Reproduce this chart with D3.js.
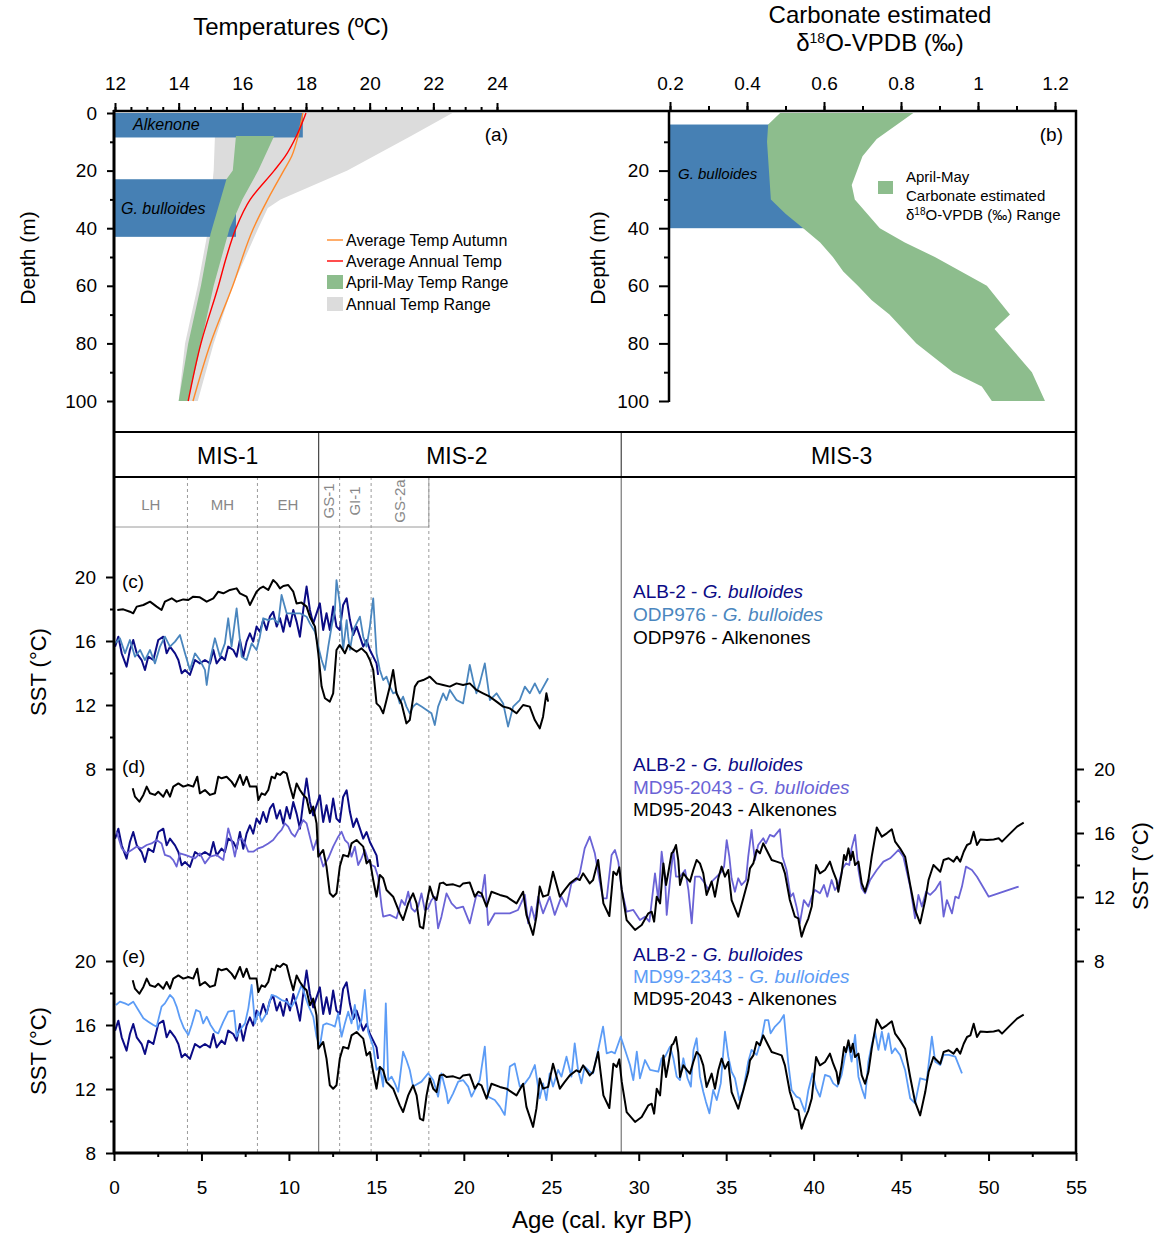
<!doctype html>
<html>
<head>
<meta charset="utf-8">
<style>
    body { margin: 0; background: #fff; }
    text { font-family: "Liberation Sans", Arial, Helvetica, sans-serif; fill: #000; }
</style>
</head>
<body>
<div class="chart"></div>
<script src="https://d3js.org/d3.v7.min.js"></script>
<script>

    // ---------- panel (a): temperature profiles vs depth ----------
    let tempTicks = [12, 14, 16, 18, 20, 22, 24];
    let depthTicks = [0, 20, 40, 60, 80, 100];
    let annualRangeLeft = [[0, 15.2], [8, 15.14], [20, 15.1], [42, 14.9], [60, 14.6], [80, 14.2], [100, 14.0]];
    let annualRangeRight = [[0, 22.6], [8, 21.3], [20, 19.3], [30, 17.2], [33, 16.8], [40, 16.5], [60, 15.7], [80, 15.1], [100, 14.6]];
    let aprilMayLeft = [[8, 15.8], [20, 15.7], [23, 15.5], [42, 15.0], [60, 14.7], [80, 14.3], [100, 14.0]];
    let aprilMayRight = [[8, 17.0], [20, 16.5], [30, 16.0], [40, 15.6], [60, 15.1], [80, 14.7], [100, 14.3]];
    let annualAverage = [[0, 18.0], [8, 17.7], [15, 17.35], [20, 17.0], [30, 16.25], [40, 15.8], [50, 15.5], [60, 15.25], [80, 14.7], [100, 14.3]];
    let autumnAverage = [[0, 17.9], [8, 17.75], [15, 17.55], [20, 17.3], [30, 16.8], [40, 16.35], [60, 15.7], [80, 15.0], [100, 14.45]];
    let alkenoneDepth = [0, 8.5];
    let bulloidesDepthA = [23, 43];

    // ---------- panel (b): d18O range vs depth ----------
    let d18Ticks = [0.2, 0.4, 0.6, 0.8, 1, 1.2];
    let depthTicksB = [20, 40, 60, 80, 100];
    let d18Left = [[0, 0.486], [4, 0.455], [10, 0.452], [30, 0.462], [35, 0.50], [40, 0.546], [45, 0.59], [50, 0.623], [55, 0.65], [60, 0.688], [65, 0.724], [70, 0.77], [80, 0.84], [90, 0.935], [95, 1.01], [100, 1.036]];
    let d18Right = [[0, 0.832], [3, 0.80], [9, 0.737], [15, 0.70], [25, 0.672], [30, 0.68], [40, 0.745], [45, 0.81], [50, 0.888], [60, 1.023], [70, 1.083], [75, 1.043], [90, 1.14], [100, 1.174]];
    let bulloidesDepthB = [4, 40];

    // ---------- time axis, periods ----------
    let ageTicks = [0, 5, 10, 15, 20, 25, 30, 35, 40, 45, 50, 55];
    let sstTicks = [8, 12, 16, 20];
    let misBounds = [11.7, 29.0];
    let misLabels = [['MIS-1', 6.5], ['MIS-2', 19.6], ['MIS-3', 41.6]];
    let stageBounds = [4.2, 8.2, 12.9, 14.7, 18.0];
    let stageLabels = [['LH', 2.1, false], ['MH', 6.2, false], ['EH', 9.95, false], ['GS-1', 12.3, true], ['GI-1', 13.8, true], ['GS-2a', 16.35, true]];

    // ---------- SST records [age kyr, SST °C] ----------
    let alb2Bulloides = [[0.06,15.65],[0.25,16.27],[0.44,15.23],[0.72,14.40],[0.91,15.44],[1.10,16.06],[1.30,15.23],[1.58,14.81],[1.77,14.19],[1.96,15.02],[2.25,14.81],[2.53,16.06],[2.82,16.27],[3.01,15.23],[3.20,15.65],[3.49,15.23],[3.68,14.81],[3.87,13.98],[4.06,14.19],[4.34,13.88],[4.63,14.81],[4.91,14.60],[5.20,14.81],[5.49,14.60],[5.68,15.44],[5.87,14.60],[6.15,15.02],[6.34,14.81],[6.53,15.65],[6.82,15.44],[7.01,15.02],[7.20,16.06],[7.39,15.02],[7.58,15.96],[7.77,16.48],[7.96,15.96],[8.15,16.90],[8.34,16.58],[8.53,17.31],[8.72,16.69],[8.91,17.52],[9.10,17.83],[9.30,16.90],[9.49,17.42],[9.68,16.58],[9.87,17.63],[10.06,16.90],[10.25,17.94],[10.44,17.21],[10.63,16.27],[10.82,17.94],[11.01,19.40],[11.20,17.94],[11.39,17.10],[11.58,17.73],[11.77,18.35],[11.96,16.69],[12.15,17.73],[12.34,16.69],[12.53,18.15],[12.72,16.90],[12.91,16.69],[13.10,18.25],[13.30,18.67],[13.49,17.31],[13.68,16.38],[13.87,16.90],[14.06,16.27],[14.25,15.65],[14.44,16.06],[14.63,15.44],[14.82,15.02],[15.01,14.60],[15.10,13.88]];

    let odp976Bulloides = [[0.06,15.85],[0.34,16.17],[0.63,15.23],[0.91,16.06],[1.20,15.02],[1.49,15.44],[1.77,14.81],[2.06,15.44],[2.34,14.60],[2.63,15.65],[2.91,16.27],[3.20,15.65],[3.49,15.96],[3.77,16.38],[4.06,15.23],[4.34,14.19],[4.63,15.23],[4.91,14.81],[5.20,14.19],[5.30,13.25],[5.49,14.81],[5.77,16.17],[6.06,15.02],[6.34,15.85],[6.53,17.42],[6.72,15.65],[7.01,18.04],[7.30,15.02],[7.58,14.81],[7.87,15.85],[8.15,15.44],[8.34,16.27],[8.53,17.42],[8.82,17.31],[9.10,17.42],[9.39,17.10],[9.58,18.88],[9.87,17.73],[10.63,17.73],[11.01,17.52],[11.20,17.10],[11.49,16.58],[11.68,15.65],[11.87,14.81],[12.06,14.19],[12.25,15.65],[12.44,16.90],[12.63,17.94],[12.72,19.81],[12.91,18.35],[13.10,15.44],[13.30,17.31],[13.39,16.27],[13.49,15.44],[13.68,16.69],[13.87,17.10],[14.06,17.52],[14.25,16.27],[14.44,15.65],[14.63,16.90],[14.82,18.67],[15.01,15.23],[15.20,14.19],[15.39,13.56],[15.58,13.77],[15.77,13.15],[15.96,12.73],[16.15,12.83],[16.34,12.10],[16.53,12.52],[16.72,11.90],[16.91,11.48],[17.10,11.90],[17.30,12.10],[17.58,11.90],[17.87,11.69],[18.15,11.48],[18.34,10.75],[18.53,11.90],[18.82,12.73],[19.01,12.31],[19.20,12.94],[19.58,12.31],[19.96,12.10],[20.34,14.50],[20.53,13.56],[20.72,12.73],[20.91,13.35],[21.20,14.60],[21.49,12.31],[21.87,12.73],[22.25,12.10],[22.53,10.65],[22.82,11.90],[23.20,12.31],[23.49,13.15],[23.77,12.73],[24.06,13.35],[24.34,12.73],[24.82,13.67]];

    let odp976Alkenones = [[0.19,17.94],[0.53,17.98],[0.91,17.83],[1.10,17.73],[1.30,18.15],[1.68,18.25],[2.06,18.46],[2.44,18.15],[2.72,17.94],[2.91,18.46],[3.30,18.67],[3.58,18.46],[3.96,18.60],[4.25,18.56],[4.53,18.77],[4.91,18.73],[5.30,18.46],[5.68,18.67],[5.96,19.08],[6.25,18.98],[6.63,19.19],[7.01,19.29],[7.20,18.98],[7.58,18.77],[7.77,18.25],[8.15,19.08],[8.34,19.29],[8.53,19.40],[8.82,19.19],[9.10,19.81],[9.30,19.60],[9.49,19.29],[9.68,19.44],[9.96,19.50],[10.25,19.08],[10.44,18.35],[10.72,18.40],[11.01,18.15],[11.20,17.52],[11.49,16.90],[11.68,15.23],[11.87,13.15],[12.06,12.42],[12.34,12.21],[12.53,12.73],[12.72,15.44],[12.91,15.75],[13.20,15.23],[13.39,15.75],[13.58,15.54],[13.87,15.33],[14.15,15.54],[14.44,15.23],[14.63,14.81],[14.82,14.19],[15.01,12.10],[15.20,11.90],[15.39,11.48],[15.58,12.31],[15.77,13.15],[15.96,14.19],[16.15,12.73],[16.44,12.10],[16.72,10.85],[16.91,11.06],[17.20,13.15],[17.39,13.46],[17.68,13.56],[18.06,13.77],[18.44,13.35],[18.82,13.25],[19.20,13.15],[19.58,13.35],[19.96,13.25],[20.34,13.35],[20.72,12.94],[21.10,12.73],[21.49,12.52],[21.87,12.21],[22.25,11.90],[22.63,11.79],[23.01,11.48],[23.39,12.00],[23.77,11.90],[24.06,11.06],[24.34,10.54],[24.53,11.27],[24.72,12.73],[24.82,12.21]];

    let md952043Bulloides = [[0.15,16.08],[0.44,15.04],[0.72,14.73],[1.01,14.94],[1.30,15.15],[1.58,15.04],[1.87,15.25],[2.15,15.35],[2.44,15.56],[2.72,15.35],[2.91,14.63],[3.20,14.52],[3.39,14.31],[3.58,13.90],[3.77,14.73],[4.06,14.63],[4.34,14.52],[4.63,14.42],[4.91,14.73],[5.20,14.10],[5.49,14.52],[5.87,14.63],[6.25,14.31],[6.53,16.29],[6.72,15.56],[6.91,14.52],[7.10,15.56],[7.30,15.67],[7.49,15.35],[7.68,14.83],[7.96,14.83],[8.25,15.04],[8.53,15.15],[8.82,15.35],[9.10,15.56],[9.39,15.98],[9.58,16.19],[9.77,16.60],[9.96,16.40],[10.15,15.98],[10.34,15.77],[10.63,16.40],[10.82,16.81],[11.01,16.60],[11.20,15.77],[11.39,14.94],[11.58,15.56],[11.77,14.63],[11.96,13.90],[12.25,14.42],[12.53,15.15],[12.82,15.77],[13.01,16.08],[13.20,15.56],[13.39,15.35],[13.58,14.52],[13.77,15.15],[13.96,14.00],[14.15,14.42],[14.34,14.94],[14.53,14.31],[14.72,14.00],[14.91,13.90],[15.10,13.27],[15.30,11.40],[15.39,10.77],[15.77,10.88],[16.15,10.67],[16.44,11.81],[16.63,11.50],[16.82,12.33],[17.01,11.29],[17.20,11.08],[17.39,11.40],[17.58,12.23],[17.77,11.19],[17.96,11.29],[18.15,11.81],[18.34,12.02],[18.53,10.04],[18.72,10.77],[19.01,12.23],[19.30,11.60],[19.58,11.29],[19.96,11.40],[20.34,10.35],[20.72,12.13],[21.01,12.02],[21.20,13.38],[21.39,10.25],[21.77,10.98],[22.15,10.98],[22.63,10.98],[23.10,11.19],[23.49,12.13],[23.68,10.35],[23.87,11.40],[24.06,10.56],[24.25,12.02],[24.53,10.98],[24.91,12.02],[25.20,10.88],[25.58,12.02],[25.87,11.40],[26.15,12.85],[26.44,13.06],[26.63,13.48],[26.91,15.04],[27.20,15.77],[27.49,14.73],[27.77,12.96],[27.96,11.92],[28.17,11.92],[28.45,14.63],[28.64,14.94],[28.83,14.21],[29.03,12.44],[29.31,11.08],[29.69,11.19],[30.07,10.56],[30.36,10.77],[30.61,10.46],[30.93,13.48],[31.12,11.81],[31.31,14.83],[31.51,13.06],[31.60,10.88],[31.79,13.06],[31.98,14.94],[32.13,13.27],[32.36,13.27],[32.65,13.69],[32.84,12.44],[33.03,10.35],[33.22,13.27],[33.50,13.27],[33.79,12.85],[33.98,12.44],[34.17,12.96],[34.46,13.27],[34.74,13.58],[34.88,13.90],[35.03,15.56],[35.18,14.52],[35.31,13.17],[35.50,12.33],[35.69,13.17],[35.88,12.75],[36.13,13.06],[36.26,14.52],[36.45,16.19],[36.64,14.31],[36.83,15.25],[37.12,15.67],[37.27,15.35],[37.50,15.88],[37.73,15.77],[38.07,16.23],[38.22,14.52],[38.45,13.69],[38.68,12.02],[38.83,12.23],[39.02,11.40],[39.21,10.35],[39.44,11.81],[39.70,11.40],[39.89,12.02],[40.08,12.44],[40.36,12.23],[40.59,12.75],[40.78,12.02],[41.03,13.06],[41.22,12.44],[41.41,12.75],[41.66,13.79],[41.85,14.10],[42.04,14.00],[42.17,15.04],[42.37,15.88],[42.56,13.69],[42.75,12.54],[42.94,12.23],[43.23,13.06],[43.61,13.69],[43.99,14.21],[44.37,14.42],[44.66,14.73],[44.85,14.94],[45.13,14.52],[45.52,12.65],[45.80,10.67],[45.99,12.13],[46.19,11.40],[46.43,12.33],[46.66,12.13],[46.95,12.44],[47.24,12.96],[47.43,10.77],[47.62,11.81],[47.91,10.98],[48.10,12.02],[48.29,11.92],[48.48,12.65],[48.71,13.90],[49.05,13.69],[49.34,13.27],[50.01,12.02],[51.72,12.65]];

    let md952043Alkenones = [[1.07,18.79],[1.20,18.27],[1.45,17.96],[1.68,18.38],[1.87,18.90],[2.06,18.48],[2.34,18.38],[2.53,18.58],[2.82,18.27],[3.01,18.69],[3.20,18.27],[3.39,18.90],[3.68,19.10],[3.96,18.90],[4.25,19.00],[4.53,18.90],[4.76,19.52],[4.91,18.48],[5.20,18.69],[5.49,18.38],[5.77,18.48],[5.96,19.52],[6.15,19.42],[6.44,19.52],[6.72,19.21],[6.91,18.90],[7.20,19.63],[7.39,19.00],[7.58,19.52],[7.77,18.90],[8.15,18.90],[8.25,18.06],[8.44,18.48],[8.63,18.38],[8.82,18.69],[9.01,19.52],[9.20,19.42],[9.30,19.73],[9.49,19.63],[9.68,19.83],[9.87,19.73],[10.06,18.90],[10.25,18.17],[10.44,19.10],[10.63,18.69],[10.82,18.38],[11.01,18.17],[11.20,17.23],[11.39,17.65],[11.58,16.60],[11.68,14.52],[11.96,14.94],[12.15,13.90],[12.34,12.23],[12.53,12.02],[12.72,12.23],[12.91,13.90],[13.10,14.63],[13.39,14.52],[13.58,15.35],[13.87,15.56],[14.06,15.35],[14.25,15.15],[14.44,14.10],[14.63,14.31],[14.82,13.06],[15.01,12.02],[15.20,13.38],[15.39,13.17],[15.58,12.44],[15.96,12.02],[16.34,10.98],[16.53,10.56],[16.82,11.60],[16.91,11.81],[17.10,12.23],[17.30,11.60],[17.49,10.15],[17.68,10.04],[17.87,11.60],[18.06,12.65],[18.25,12.02],[18.44,11.81],[18.63,12.85],[18.82,12.90],[19.01,12.75],[19.39,12.79],[19.77,12.65],[19.96,12.85],[20.34,12.90],[20.63,12.02],[20.82,12.33],[21.01,12.23],[21.30,11.40],[21.58,12.33],[22.06,12.13],[22.44,12.02],[23.01,11.60],[23.39,12.33],[23.58,10.88],[23.96,9.63],[24.15,10.77],[24.34,12.65],[24.53,12.02],[24.82,12.13],[25.10,13.58],[25.49,12.02],[25.77,12.44],[26.06,12.85],[26.44,13.17],[26.63,13.06],[26.82,13.48],[27.20,12.85],[27.39,13.06],[27.68,14.31],[27.98,11.60],[28.32,10.81],[28.55,13.58],[28.74,13.38],[28.89,13.85],[29.03,12.44],[29.31,10.56],[29.79,9.94],[30.17,10.25],[30.55,10.98],[30.74,11.08],[30.88,10.46],[31.03,12.02],[31.22,11.60],[31.41,14.10],[31.56,12.75],[31.70,13.58],[31.88,14.73],[31.98,14.83],[32.13,15.25],[32.26,14.31],[32.36,12.75],[32.55,13.48],[32.77,13.17],[32.93,12.96],[33.12,13.69],[33.31,14.31],[33.50,14.10],[33.69,13.48],[33.88,12.13],[34.17,12.96],[34.36,12.02],[34.55,13.17],[34.74,13.90],[34.93,13.27],[35.12,13.69],[35.31,11.81],[35.69,10.77],[35.98,11.92],[36.26,13.06],[36.36,13.79],[36.55,14.10],[36.74,14.94],[36.93,14.73],[37.12,15.35],[37.31,14.94],[37.60,14.31],[37.88,14.21],[38.17,14.10],[38.36,13.48],[38.64,11.81],[38.93,10.77],[39.12,10.67],[39.31,9.52],[39.50,10.15],[39.70,10.67],[39.89,11.40],[40.14,14.00],[40.36,13.48],[40.65,13.69],[40.93,14.21],[41.12,13.58],[41.31,13.06],[41.41,12.33],[41.60,13.48],[41.74,14.63],[41.85,14.31],[41.99,15.04],[42.12,14.31],[42.24,14.83],[42.37,14.00],[42.56,14.21],[42.75,12.85],[42.94,12.33],[43.13,13.06],[43.32,14.52],[43.61,16.35],[43.90,15.77],[44.18,15.98],[44.47,16.23],[44.66,15.46],[44.94,15.04],[45.23,14.52],[45.52,12.75],[45.80,11.19],[46.09,10.35],[46.38,11.81],[46.57,13.06],[46.85,14.00],[47.24,13.58],[47.43,14.31],[47.72,14.42],[48.00,14.21],[48.19,14.52],[48.38,14.21],[48.58,14.83],[48.77,15.25],[48.96,15.35],[49.15,16.08],[49.34,15.25],[49.53,15.60],[49.91,15.56],[50.29,15.60],[50.58,15.67],[50.77,15.46],[51.15,15.88],[51.63,16.40],[52.01,16.65]];

    let md992343Bulloides = [[0.11,17.25],[0.34,17.46],[0.63,17.35],[0.82,17.25],[1.10,17.46],[1.39,16.94],[1.68,16.42],[1.96,16.21],[2.25,16.00],[2.44,15.90],[2.72,17.15],[2.91,17.35],[3.20,17.88],[3.39,17.67],[3.58,17.15],[3.77,16.42],[4.00,15.79],[4.25,15.38],[4.44,16.00],[4.69,16.94],[4.91,16.83],[5.10,16.10],[5.30,16.52],[5.52,16.00],[5.77,15.58],[5.96,15.48],[6.25,16.21],[6.53,16.83],[6.86,16.90],[7.01,15.27],[7.20,15.69],[7.49,16.10],[7.68,17.04],[7.87,18.50],[8.06,16.10],[8.25,16.83],[8.44,16.21],[8.72,16.73],[9.01,17.88],[9.30,17.77],[9.58,17.56],[9.87,17.46],[10.15,17.15],[10.44,17.67],[10.72,18.50],[10.91,17.88],[11.10,17.25],[11.39,16.52],[11.58,15.27],[11.77,14.65],[11.96,16.00],[12.15,16.10],[12.44,16.00],[12.63,15.90],[12.82,16.73],[13.01,15.27],[13.20,16.10],[13.39,16.83],[13.58,16.10],[13.77,17.25],[13.96,15.69],[14.15,16.31],[14.34,18.19],[14.53,15.58],[14.82,14.65],[15.01,13.19],[15.20,13.40],[15.39,12.15],[15.54,17.35],[15.68,12.56],[15.87,12.77],[16.06,12.35],[16.25,11.83],[16.53,14.33],[16.72,13.81],[16.91,13.19],[17.10,12.15],[17.58,12.46],[17.96,12.98],[18.25,12.56],[18.53,11.52],[18.72,12.98],[19.01,11.73],[19.10,11.10],[19.39,11.73],[19.68,12.46],[19.96,12.56],[20.25,12.15],[20.44,11.52],[20.63,11.94],[20.91,12.56],[21.20,14.65],[21.39,11.52],[21.77,11.31],[22.06,10.90],[22.34,10.38],[22.63,13.40],[22.91,13.60],[23.20,12.15],[23.49,12.35],[23.77,12.77],[24.06,13.50],[24.34,11.42],[24.53,12.35],[24.72,11.31],[24.91,12.98],[25.10,12.15],[25.39,13.19],[25.58,12.77],[25.87,14.02],[26.15,12.77],[26.34,14.85],[26.53,13.19],[26.72,12.35],[26.91,13.40],[27.20,13.08],[27.39,12.98],[27.68,14.44],[27.96,15.90],[28.17,14.23],[28.45,14.33],[28.64,14.23],[28.97,15.27],[29.22,14.44],[29.50,13.50],[29.69,12.56],[29.89,14.33],[30.07,12.67],[30.36,13.81],[30.65,13.19],[31.12,13.08],[31.31,13.92],[31.51,14.02],[31.79,14.65],[31.98,13.92],[32.17,12.77],[32.36,12.56],[32.55,13.92],[32.79,12.67],[32.98,12.15],[33.13,14.44],[33.31,15.17],[33.50,12.77],[33.69,11.83],[33.84,11.21],[34.04,10.48],[34.26,11.94],[34.46,11.31],[34.69,12.35],[34.93,15.58],[35.12,14.02],[35.31,13.08],[35.50,12.67],[35.75,11.31],[35.98,11.94],[36.26,13.71],[36.45,14.44],[36.74,14.13],[37.03,15.17],[37.22,16.31],[37.41,16.31],[37.54,15.48],[37.79,15.90],[38.07,16.21],[38.30,16.63],[38.55,13.60],[38.74,11.94],[39.02,11.52],[39.21,11.42],[39.50,10.58],[39.70,11.94],[39.94,12.98],[40.14,12.04],[40.36,11.52],[40.65,12.88],[40.93,12.77],[41.12,12.35],[41.35,12.15],[41.60,12.88],[41.79,14.02],[41.98,14.85],[42.17,13.71],[42.37,15.38],[42.56,12.77],[42.75,12.04],[42.94,11.42],[43.13,13.71],[43.32,14.75],[43.51,15.58],[43.70,14.44],[43.90,15.58],[44.09,14.44],[44.28,15.48],[44.47,14.23],[44.66,14.54],[44.94,14.13],[45.23,13.19],[45.52,11.42],[45.80,11.10],[46.09,12.67],[46.47,12.56],[46.76,15.27],[46.95,13.71],[47.24,13.50],[47.43,14.13],[47.72,14.13],[48.10,14.02],[48.48,12.98]];

    // ---------- colours ----------
    let navy = '#0b0b85';
    let odpBlue = '#4a86be';
    let mdSlate = '#6a63d6';
    let md99Blue = '#5c9cf6';
    let boxBlue = '#4680b4';
    let green = '#8dbd8d';
    let grey = '#dcdcdc';

    // ---------- svg + scales ----------
    let svg = d3.select('.chart').append('svg')
        .attr('width', 1161)
        .attr('height', 1238);

    let xTemp = d3.scaleLinear().domain([12, 24]).range([115, 497]);
    let xD18 = d3.scaleLinear().domain([0.2, 1.2]).range([670, 1055]);
    let yDepth = d3.scaleLinear().domain([0, 100]).range([113, 401]);
    let xAge = d3.scaleLinear().domain([0, 55]).range([114, 1076]);
    let ySstC = d3.scaleLinear().domain([8, 20]).range([769, 577]);
    let ySstD = d3.scaleLinear().domain([8, 20]).range([961, 769]);
    let ySstE = d3.scaleLinear().domain([8, 20]).range([1153, 961]);

    // polygon made from a left edge (top->bottom) and right edge (bottom->top)
    function bandPath(left, right, xs) {
        let pts = left.map(d => [xs(d[1]), yDepth(d[0])])
            .concat(right.slice().reverse().map(d => [xs(d[1]), yDepth(d[0])]));
        return d3.line().curve(d3.curveLinear)(pts) + 'Z';
    }

    // ---------- panel (a) ----------
    svg.append('path').attr('d', bandPath(annualRangeLeft, annualRangeRight, xTemp)).attr('fill', grey);

    svg.append('rect')
        .attr('x', xTemp(12)).attr('y', yDepth(alkenoneDepth[0]))
        .attr('width', xTemp(17.9) - xTemp(12))
        .attr('height', yDepth(alkenoneDepth[1]) - yDepth(alkenoneDepth[0]))
        .attr('fill', boxBlue);
    svg.append('rect')
        .attr('x', xTemp(12)).attr('y', yDepth(bulloidesDepthA[0]))
        .attr('width', xTemp(15.8) - xTemp(12))
        .attr('height', yDepth(bulloidesDepthA[1]) - yDepth(bulloidesDepthA[0]))
        .attr('fill', boxBlue);

    svg.append('path').attr('d', bandPath(aprilMayLeft, aprilMayRight, xTemp)).attr('fill', green);

    let profileLine = d3.line().curve(d3.curveMonotoneY)
        .x(d => xTemp(d[1])).y(d => yDepth(d[0]));
    svg.append('path').datum(autumnAverage).attr('d', profileLine)
        .attr('fill', 'none').attr('stroke', '#ff8a2a').attr('stroke-width', 1.4);
    svg.append('path').datum(annualAverage).attr('d', profileLine)
        .attr('fill', 'none').attr('stroke', '#ff0000').attr('stroke-width', 1.4);

    svg.append('text').attr('x', 133).attr('y', 130).attr('font-size', 16)
        .attr('font-style', 'italic').text('Alkenone');
    svg.append('text').attr('x', 121).attr('y', 214).attr('font-size', 16)
        .attr('font-style', 'italic').text('G. bulloides');
    svg.append('text').attr('x', 508).attr('y', 141).attr('font-size', 19)
        .attr('text-anchor', 'end').text('(a)');

    // legend (a)
    let legA = svg.append('g').attr('font-size', 16);
    legA.append('line').attr('x1', 327).attr('x2', 343).attr('y1', 240).attr('y2', 240)
        .attr('stroke', '#ff8a2a').attr('stroke-width', 1.4);
    legA.append('line').attr('x1', 327).attr('x2', 343).attr('y1', 261).attr('y2', 261)
        .attr('stroke', '#ff0000').attr('stroke-width', 1.4);
    legA.append('rect').attr('x', 327).attr('y', 275).attr('width', 16).attr('height', 14).attr('fill', green);
    legA.append('rect').attr('x', 327).attr('y', 297).attr('width', 16).attr('height', 14).attr('fill', grey);
    legA.append('text').attr('x', 346).attr('y', 246).text('Average Temp Autumn');
    legA.append('text').attr('x', 346).attr('y', 267).text('Average Annual Temp');
    legA.append('text').attr('x', 346).attr('y', 288).text('April-May Temp Range');
    legA.append('text').attr('x', 346).attr('y', 310).text('Annual Temp Range');

    // ---------- panel (b) ----------
    svg.append('rect')
        .attr('x', xD18(0.2)).attr('y', yDepth(bulloidesDepthB[0]))
        .attr('width', xD18(0.55) - xD18(0.2))
        .attr('height', yDepth(bulloidesDepthB[1]) - yDepth(bulloidesDepthB[0]))
        .attr('fill', boxBlue);
    svg.append('path').attr('d', bandPath(d18Left, d18Right, xD18)).attr('fill', green);

    svg.append('text').attr('x', 678).attr('y', 179).attr('font-size', 15)
        .attr('font-style', 'italic').text('G. bulloides');
    svg.append('text').attr('x', 1063).attr('y', 141).attr('font-size', 19)
        .attr('text-anchor', 'end').text('(b)');

    let legB = svg.append('g').attr('font-size', 15);
    legB.append('rect').attr('x', 878).attr('y', 181).attr('width', 15).attr('height', 13).attr('fill', green);
    legB.append('text').attr('x', 906).attr('y', 182).text('April-May');
    legB.append('text').attr('x', 906).attr('y', 201).text('Carbonate estimated');
    let legB3 = legB.append('text').attr('x', 906).attr('y', 220);
    legB3.append('tspan').text('δ');
    legB3.append('tspan').attr('font-size', 10).attr('dy', -5).text('18');
    legB3.append('tspan').attr('dy', 5).text('O-VPDB (‰) Range');

    // ---------- titles ----------
    svg.append('text').attr('x', 291).attr('y', 35).attr('font-size', 24)
        .attr('text-anchor', 'middle').text('Temperatures (ºC)');
    svg.append('text').attr('x', 880).attr('y', 23).attr('font-size', 24)
        .attr('text-anchor', 'middle').text('Carbonate estimated');
    let t2 = svg.append('text').attr('x', 880).attr('y', 51).attr('font-size', 24)
        .attr('text-anchor', 'middle');
    t2.append('tspan').text('δ');
    t2.append('tspan').attr('font-size', 14).attr('dy', -8).text('18');
    t2.append('tspan').attr('dy', 8).text('O-VPDB (‰)');

    svg.append('text').attr('transform', 'translate(35,258) rotate(-90)')
        .attr('font-size', 21).attr('text-anchor', 'middle').text('Depth (m)');
    svg.append('text').attr('transform', 'translate(605,258) rotate(-90)')
        .attr('font-size', 21).attr('text-anchor', 'middle').text('Depth (m)');

    // ---------- axes helpers ----------
    function styleAxis(g, size) {
        g.select('.domain').remove();
        g.selectAll('.tick line').attr('stroke', '#000').attr('stroke-width', 2);
        g.selectAll('.tick text').attr('font-size', size).attr('fill', '#000')
            .attr('font-family', '"Liberation Sans", Arial, Helvetica, sans-serif');
    }

    // top temperature axis
    svg.append('g').attr('transform', 'translate(0,111)')
        .call(d3.axisTop(xTemp).tickValues(d3.range(12, 24.01, 0.5)).tickSize(4).tickFormat(''))
        .call(g => styleAxis(g, 19));
    svg.append('g').attr('transform', 'translate(0,111)')
        .call(d3.axisTop(xTemp).tickValues(tempTicks).tickSize(8).tickPadding(13))
        .call(g => styleAxis(g, 19));

    // top d18O axis
    svg.append('g').attr('transform', 'translate(0,111)')
        .call(d3.axisTop(xD18).tickValues(d3.range(0.2, 1.21, 0.1)).tickSize(5).tickFormat(''))
        .call(g => styleAxis(g, 19));
    svg.append('g').attr('transform', 'translate(0,111)')
        .call(d3.axisTop(xD18).tickValues(d18Ticks).tickSize(9).tickPadding(12).tickFormat(d => d3.format('')(+d.toFixed(1))))
        .call(g => styleAxis(g, 19));

    // depth axes
    svg.append('g').attr('transform', 'translate(114,0)')
        .call(d3.axisLeft(yDepth).tickValues([10, 30, 50, 70, 90]).tickSize(4).tickFormat(''))
        .call(g => styleAxis(g, 19));
    svg.append('g').attr('transform', 'translate(114,0)')
        .call(d3.axisLeft(yDepth).tickValues(depthTicks).tickSize(7).tickPadding(10))
        .call(g => styleAxis(g, 19));
    svg.append('g').attr('transform', 'translate(669,0)')
        .call(d3.axisLeft(yDepth).tickValues([10, 30, 50, 70, 90]).tickSize(5).tickFormat(''))
        .call(g => styleAxis(g, 19));
    svg.append('g').attr('transform', 'translate(669,0)')
        .call(d3.axisLeft(yDepth).tickValues(depthTicksB).tickSize(10).tickPadding(10))
        .call(g => styleAxis(g, 19));

    // ---------- period bands ----------
    let grid = svg.append('g');
    stageBounds.forEach(a => {
        grid.append('line').attr('x1', xAge(a)).attr('x2', xAge(a)).attr('y1', 477).attr('y2', 1153)
            .attr('stroke', '#9a9a9a').attr('stroke-width', 1).attr('stroke-dasharray', '3,3');
    });
    misBounds.forEach(a => {
        grid.append('line').attr('x1', xAge(a)).attr('x2', xAge(a)).attr('y1', 432).attr('y2', 477)
            .attr('stroke', '#444').attr('stroke-width', 1.2);
        grid.append('line').attr('x1', xAge(a)).attr('x2', xAge(a)).attr('y1', 477).attr('y2', 1153)
            .attr('stroke', '#777').attr('stroke-width', 1.2);
    });
    grid.append('line').attr('x1', xAge(0)).attr('x2', xAge(18.0)).attr('y1', 527).attr('y2', 527)
        .attr('stroke', '#9a9a9a').attr('stroke-width', 1);
    grid.append('line').attr('x1', xAge(18.0)).attr('x2', xAge(18.0)).attr('y1', 477).attr('y2', 527)
        .attr('stroke', '#9a9a9a').attr('stroke-width', 1);

    misLabels.forEach(d => {
        svg.append('text').attr('x', xAge(d[1])).attr('y', 464).attr('font-size', 23)
            .attr('text-anchor', 'middle').text(d[0]);
    });
    stageLabels.forEach(d => {
        let t = svg.append('text').attr('font-size', 15).attr('fill', '#888')
            .style('fill', '#888').attr('text-anchor', 'middle').text(d[0]);
        if (d[2]) {
            t.attr('transform', `translate(${xAge(d[1]) + 5},501) rotate(-90)`);
        } else {
            t.attr('x', xAge(d[1])).attr('y', 510);
        }
    });

    // ---------- SST series ----------
    function drawSeries(data, yScale, color, width) {
        svg.append('path').datum(data)
            .attr('d', d3.line().x(d => xAge(d[0])).y(d => yScale(d[1])))
            .attr('fill', 'none').attr('stroke', color)
            .attr('stroke-width', width).attr('stroke-linejoin', 'round');
    }

    // (c)
    drawSeries(alb2Bulloides, ySstC, navy, 2);
    drawSeries(odp976Bulloides, ySstC, odpBlue, 1.8);
    drawSeries(odp976Alkenones, ySstC, '#000', 2);
    // (d)
    drawSeries(alb2Bulloides, ySstD, navy, 2);
    drawSeries(md952043Bulloides, ySstD, mdSlate, 1.8);
    drawSeries(md952043Alkenones, ySstD, '#000', 2);
    // (e)
    drawSeries(alb2Bulloides, ySstE, navy, 2);
    drawSeries(md992343Bulloides, ySstE, md99Blue, 1.8);
    drawSeries(md952043Alkenones, ySstE, '#000', 2);

    svg.append('text').attr('x', 122).attr('y', 588).attr('font-size', 19).text('(c)');
    svg.append('text').attr('x', 122).attr('y', 773).attr('font-size', 19).text('(d)');
    svg.append('text').attr('x', 122).attr('y', 963).attr('font-size', 19).text('(e)');

    function legendRow(y, color, site, taxon, italic) {
        let t = svg.append('text').attr('x', 633).attr('y', y).attr('font-size', 19).style('fill', color);
        t.append('tspan').text(site + ' - ');
        t.append('tspan').attr('font-style', italic ? 'italic' : 'normal').text(taxon);
    }
    legendRow(598, navy, 'ALB-2', 'G. bulloides', true);
    legendRow(621, odpBlue, 'ODP976', 'G. bulloides', true);
    legendRow(644, '#000', 'ODP976', 'Alkenones', false);
    legendRow(771, navy, 'ALB-2', 'G. bulloides', true);
    legendRow(794, mdSlate, 'MD95-2043', 'G. bulloides', true);
    legendRow(816, '#000', 'MD95-2043', 'Alkenones', false);
    legendRow(961, navy, 'ALB-2', 'G. bulloides', true);
    legendRow(983, md99Blue, 'MD99-2343', 'G. bulloides', true);
    legendRow(1005, '#000', 'MD95-2043', 'Alkenones', false);

    // SST axes
    [[ySstC, 'left'], [ySstE, 'left'], [ySstD, 'right']].forEach(([ys, side]) => {
        let x0 = side === 'left' ? 114 : 1076;
        let ax = side === 'left' ? d3.axisLeft : d3.axisRight;
        svg.append('g').attr('transform', `translate(${x0},0)`)
            .call(ax(ys).tickValues([10, 14, 18]).tickSize(4).tickFormat(''))
            .call(g => styleAxis(g, 19));
        svg.append('g').attr('transform', `translate(${x0},0)`)
            .call(ax(ys).tickValues(sstTicks).tickSize(8).tickPadding(10))
            .call(g => styleAxis(g, 19));
    });
    svg.append('text').attr('transform', 'translate(46,672) rotate(-90)')
        .attr('font-size', 22).attr('text-anchor', 'middle').text('SST (°C)');
    svg.append('text').attr('transform', 'translate(46,1051) rotate(-90)')
        .attr('font-size', 22).attr('text-anchor', 'middle').text('SST (°C)');
    svg.append('text').attr('transform', 'translate(1148,866) rotate(-90)')
        .attr('font-size', 22).attr('text-anchor', 'middle').text('SST (°C)');

    // age axis
    svg.append('g').attr('transform', 'translate(0,1153)')
        .call(d3.axisBottom(xAge).tickValues(d3.range(2.5, 55, 5)).tickSize(4).tickFormat(''))
        .call(g => styleAxis(g, 19));
    svg.append('g').attr('transform', 'translate(0,1153)')
        .call(d3.axisBottom(xAge).tickValues(ageTicks).tickSize(8).tickPadding(20))
        .call(g => styleAxis(g, 19));
    svg.append('text').attr('x', 602).attr('y', 1228).attr('font-size', 24)
        .attr('text-anchor', 'middle').text('Age (cal. kyr BP)');

    // ---------- frame ----------
    let frame = svg.append('g').attr('stroke', '#000').attr('fill', 'none');
    frame.append('line').attr('x1', 113).attr('x2', 1077).attr('y1', 111).attr('y2', 111).attr('stroke-width', 2.5);
    frame.append('line').attr('x1', 114).attr('x2', 114).attr('y1', 110).attr('y2', 1154).attr('stroke-width', 3);
    frame.append('line').attr('x1', 1076).attr('x2', 1076).attr('y1', 110).attr('y2', 1154).attr('stroke-width', 2.5);
    frame.append('line').attr('x1', 113).attr('x2', 1077).attr('y1', 1153).attr('y2', 1153).attr('stroke-width', 3);
    frame.append('line').attr('x1', 669).attr('x2', 669).attr('y1', 111).attr('y2', 402).attr('stroke-width', 2.5);
    frame.append('line').attr('x1', 114).attr('x2', 1076).attr('y1', 432).attr('y2', 432).attr('stroke-width', 2);
    frame.append('line').attr('x1', 114).attr('x2', 1076).attr('y1', 477).attr('y2', 477).attr('stroke-width', 2);

</script>
</body>
</html>
